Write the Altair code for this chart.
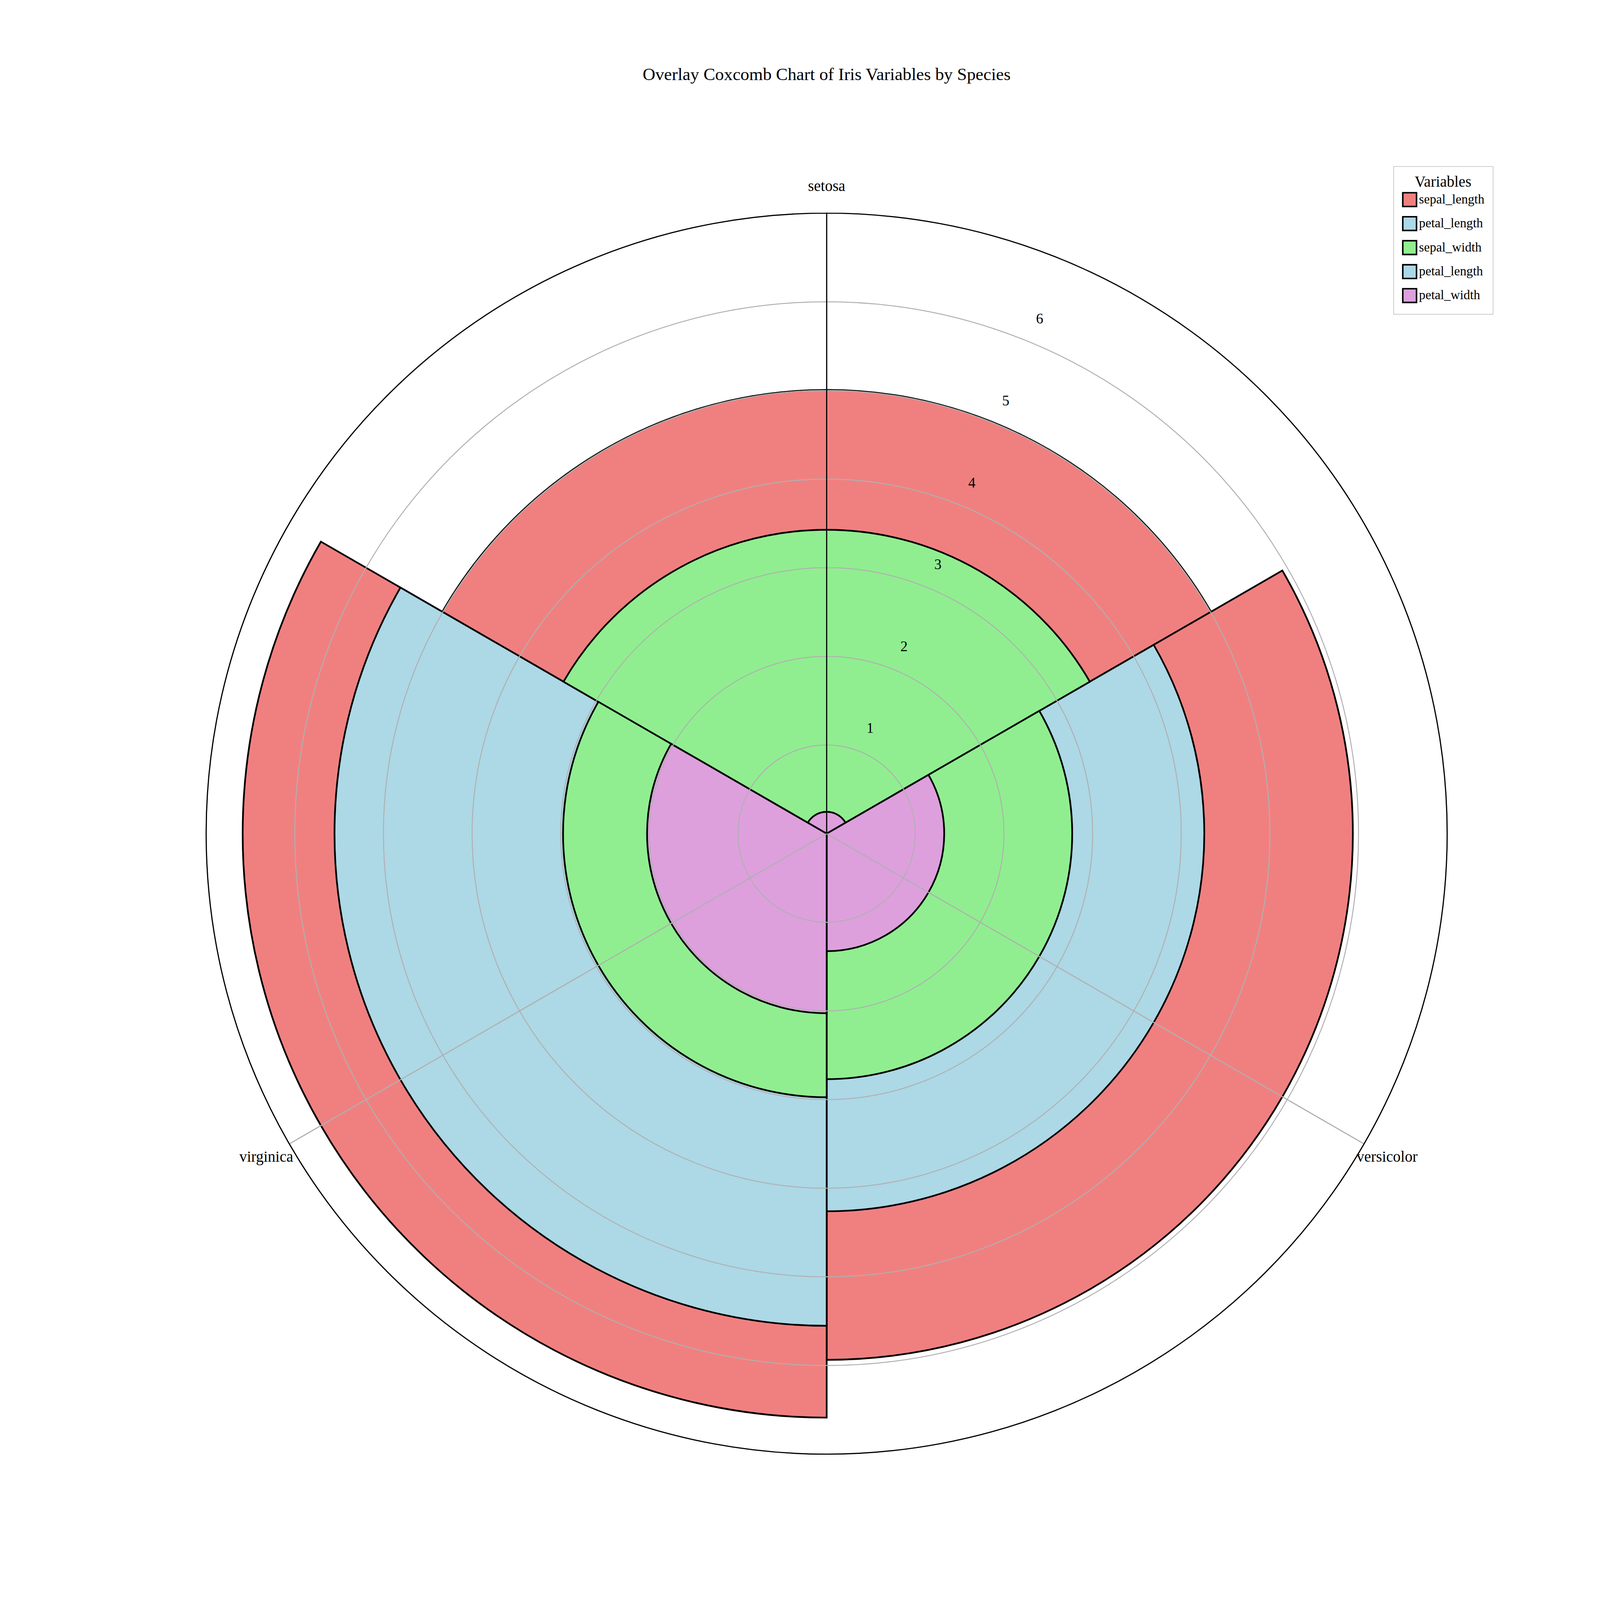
import pandas as pd
import altair as alt

species = ["setosa", "versicolor", "virginica"]
centers = [0, 120, 240]
legend_vars = ["sepal_length", "petal_length", "sepal_width", "petal_length ", "petal_width"]
colors = ["#f08080", "#add8e6", "#90ee90", "#add8e6", "#dda0dd"]
draw_vars = ["sepal_length", "petal_length", "sepal_width", "petal_width"]
sepal_length = [5.006, 5.936, 6.588]
sepal_width = [3.428, 2.770, 2.974]
petal_length = [1.462, 4.260, 5.552]
petal_width = [0.246, 1.326, 2.026]
ring_values = [1, 2, 3, 4, 5, 6]

series = [sepal_length, petal_length, sepal_width, petal_width]
rows = []
for k, (var, vals) in enumerate(zip(draw_vars, series)):
    for s, c, v in zip(species, centers, vals):
        rows.append({"species": s, "var": var, "value": v, "ord": k, "t0": c - 60, "t1": c + 60})
df = pd.DataFrame(rows)

W = 4184
CX, CY = 2162, 2127
RMAX = 1629
font = "Liberation Serif"

theta_scale = alt.Scale(type="linear", domain=[0, 360], range=[0, 6.283185307])
r_scale = alt.Scale(type="linear", domain=[0, 7], range=[0, RMAX], zero=True)
pos = dict(x=alt.value(CX), y=alt.value(CY))

bars = alt.Chart(df).mark_arc(stroke="black", strokeWidth=4.5).encode(
    theta=alt.Theta("t0:Q", scale=theta_scale, stack=None), theta2="t1:Q",
    radius=alt.Radius("value:Q", scale=r_scale),
    fill=alt.Fill("var:N", scale=alt.Scale(domain=legend_vars, range=colors),
                  legend=alt.Legend(title="Variables", orient="none", legendX=3650, legendY=375,
                                    symbolType="square", symbolSize=1300, symbolStrokeColor="black",
                                    symbolStrokeWidth=4, labelFontSize=34, titleFontSize=40,
                                    titleFont=font, labelFont=font, titleFontWeight="normal",
                                    labelLimit=600, padding=22, strokeColor="#999",
                                    fillColor="white", rowPadding=10, titleAnchor="middle",
                                    labelExpr="trim(datum.label)")),
    order=alt.Order("ord:Q"), **pos)

rings = pd.DataFrame({"value": ring_values, "t0": [0] * 6, "t1": [360] * 6})
grid = alt.Chart(rings).mark_arc(fill=None, stroke="#b0b0b0", strokeWidth=2.5).encode(
    theta=alt.Theta("t0:Q", scale=theta_scale, stack=None), theta2="t1:Q",
    radius=alt.Radius("value:Q", scale=r_scale), **pos)

sectors = pd.DataFrame({"value": [7, 7, 7], "t0": centers, "t1": [c + 120 for c in centers]})
spoke = alt.Chart(sectors).mark_arc(fill=None, stroke="#b0b0b0", strokeWidth=2.5).encode(
    theta=alt.Theta("t0:Q", scale=theta_scale, stack=None), theta2="t1:Q",
    radius=alt.Radius("value:Q", scale=r_scale), **pos)

outer_df = pd.DataFrame({"value": [7], "t0": [0], "t1": [360]})
outer = alt.Chart(outer_df).mark_arc(fill=None, stroke="black", strokeWidth=3).encode(
    theta=alt.Theta("t0:Q", scale=theta_scale, stack=None), theta2="t1:Q",
    radius=alt.Radius("value:Q", scale=r_scale), **pos)

rlab = pd.DataFrame({"t0": [22.5] * 6, "value": [v + 0.28 for v in ring_values],
                     "t": [str(v) for v in ring_values]})
rtext = alt.Chart(rlab).mark_text(fontSize=38, font=font, color="black").encode(
    theta=alt.Theta("t0:Q", scale=theta_scale, stack=None),
    radius=alt.Radius("value:Q", scale=r_scale), text="t:N", **pos)

slab = pd.DataFrame({"t0": centers, "value": [7.3, 7.3, 7.3], "t": species})
stext = alt.Chart(slab).mark_text(fontSize=40, font=font, color="black").encode(
    theta=alt.Theta("t0:Q", scale=theta_scale, stack=None),
    radius=alt.Radius("value:Q", scale=r_scale), text="t:N", **pos)

title = alt.Chart(pd.DataFrame({"t": ["Overlay Coxcomb Chart of Iris Variables by Species"]})).mark_text(
    fontSize=46, font=font, color="black").encode(x=alt.value(CX), y=alt.value(135), text="t:N")

chart = (bars + grid + spoke + outer + rtext + stext + title).properties(
    width=W, height=W, autosize=alt.AutoSizeParams(type="none"), padding=0,
).configure_view(strokeWidth=0)

chart.save("out.html", embed_options={"renderer": "svg", "actions": False})
